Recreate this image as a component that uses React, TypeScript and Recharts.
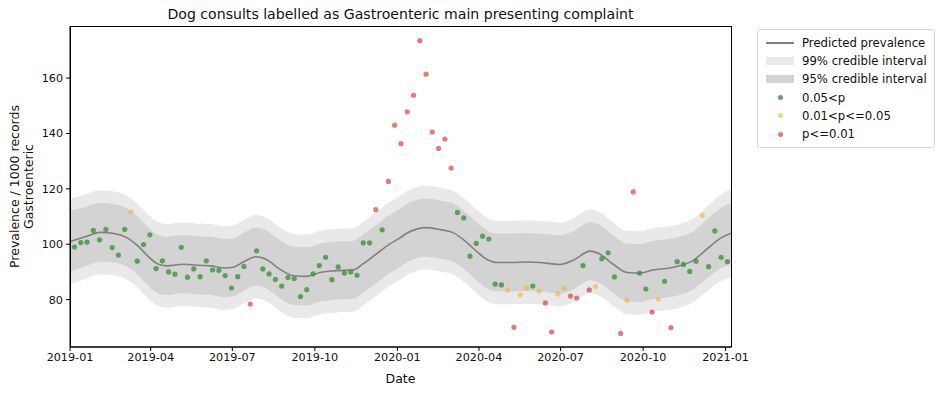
import React from "react";
import {
  ComposedChart,
  Area,
  Line,
  Scatter,
  XAxis,
  YAxis,
} from "recharts";

// weekly observed prevalence (per 1000 records)
const weeklyValues = [
  99.0, 100.6, 100.8, 105.0, 101.6, 105.4, 98.8, 96.1, 105.4, 111.7,
  93.9, 99.9, 103.4, 91.2, 94.0, 90.0, 89.2, 98.9, 88.1, 91.1,
  88.3, 94.0, 90.7, 90.6, 88.7, 84.2, 88.3, 92.0, 78.4, 97.6,
  91.1, 89.3, 87.3, 84.9, 88.0, 87.6, 81.1, 83.6, 89.3, 92.3,
  95.3, 87.2, 91.8, 89.6, 90.0, 88.8, 100.5, 100.5, 112.5, 105.2,
  122.7, 143.0, 136.3, 147.8, 153.8, 173.5, 161.4, 140.5, 134.6, 138.0,
  127.5, 111.5, 109.5, 95.7, 100.3, 102.9, 101.9, 85.6, 85.3, 83.4,
  70.0, 81.7, 84.3, 84.9, 83.1, 78.8, 68.3, 82.0, 84.1, 81.3,
  80.6, 92.3, 83.5, 84.7, 94.8, 96.9, 88.2, 67.8, 79.7, 118.9,
  89.6, 83.8, 75.5, 80.2, 86.6, 69.9, 93.7, 92.7, 90.2, 93.9,
  110.4, 91.9, 104.8, 95.3, 93.7,
];

// g: 0.05<p, o: 0.01<p<=0.05, r: p<=0.01
const weeklySignificance = (
  "gggggggggo" + "gggggggggg" + "ggggggggrg" + "gggggggggg" + "ggggggggrg" +
  "rrrrrrrrrr" + "rggggggggo" + "roogorroor" + "rgrogggror" + "ggrogrgggg" +
  "ogggg"
).split("");

const firstWeekDay = 5; // days after 2019-01-01

// model curve, sampled at days since 2019-01-01
const curveDays = [
  0, 16, 34, 49, 64, 75, 86, 97, 108, 127, 142, 157, 172, 183, 193, 208, 219,
  234, 249, 264, 279, 294, 316, 327, 342, 357, 368, 375, 398, 412, 427, 442,
  453, 465, 476, 494, 509, 524, 535, 546, 561, 580, 591, 606, 621, 635, 650,
  669, 680, 695, 710, 725, 737,
];
const predicted = [
  101.0, 102.6, 104.3, 103.9, 102.3, 99.6, 96.0, 93.0, 92.2, 92.8, 92.4, 92.2,
  91.4, 91.8, 93.6, 95.5, 94.5, 91.0, 88.6, 88.4, 89.8, 90.4, 90.8, 93.0, 96.6,
  100.2, 102.3, 103.9, 106.0, 105.3, 104.2, 100.8, 97.5, 94.5, 93.4, 93.4, 93.6,
  93.4, 93.0, 92.7, 94.2, 97.5, 96.4, 92.7, 89.8, 89.6, 90.7, 91.4, 92.2, 94.2,
  98.2, 102.1, 104.0,
];
const upper99 = [
  116.5, 117.9, 119.5, 119.0, 117.4, 114.7, 111.1, 108.1, 107.3, 107.9, 107.5,
  107.3, 106.5, 106.9, 108.7, 110.6, 109.6, 106.1, 103.7, 103.5, 104.9, 105.5,
  105.9, 108.1, 111.7, 115.3, 117.4, 119.0, 121.1, 120.4, 119.3, 115.9, 112.6,
  109.6, 108.5, 108.5, 108.7, 108.5, 108.1, 107.8, 109.3, 112.6, 111.5, 107.8,
  104.9, 104.7, 105.8, 106.5, 107.3, 109.3, 113.5, 117.7, 120.0,
];
const upper95 = [
  112.2, 113.4, 114.9, 114.4, 112.8, 110.1, 106.5, 103.5, 102.7, 103.3, 102.9,
  102.7, 101.9, 102.3, 104.1, 106.0, 105.0, 101.5, 99.1, 98.9, 100.3, 100.9,
  101.3, 103.5, 107.1, 110.7, 112.8, 114.4, 116.5, 115.8, 114.7, 111.3, 108.0,
  105.0, 103.9, 103.9, 104.1, 103.9, 103.5, 103.2, 104.7, 108.0, 106.9, 103.2,
  100.3, 100.1, 101.2, 101.9, 102.7, 104.7, 108.9, 113.0, 115.0,
];
const lower95 = [
  90.0, 91.9, 93.7, 93.4, 91.8, 89.1, 85.5, 82.5, 81.7, 82.3, 81.9, 81.7, 80.9,
  81.3, 83.1, 85.0, 84.0, 80.5, 78.1, 77.9, 79.3, 79.9, 80.3, 82.5, 86.1, 89.7,
  91.8, 93.4, 95.5, 94.8, 93.7, 90.3, 87.0, 84.0, 82.9, 82.9, 83.1, 82.9, 82.5,
  82.2, 83.7, 87.0, 85.9, 82.2, 79.3, 79.1, 80.2, 80.9, 81.7, 83.7, 87.5, 91.2,
  93.0,
];
const lower99 = [
  85.5, 87.4, 89.2, 88.8, 87.2, 84.5, 80.9, 77.9, 77.1, 77.7, 77.3, 77.1, 76.3,
  76.7, 78.5, 80.4, 79.4, 75.9, 73.5, 73.3, 74.7, 75.3, 75.7, 77.9, 81.5, 85.1,
  87.2, 88.8, 90.9, 90.2, 89.1, 85.7, 82.4, 79.4, 78.3, 78.3, 78.5, 78.3, 77.9,
  77.6, 79.1, 82.4, 81.3, 77.6, 74.7, 74.5, 75.6, 76.3, 77.1, 79.1, 82.9, 86.5,
  88.0,
];

const xTickDays = [0, 90, 181, 273, 365, 456, 547, 639, 731];
const xTickLabels = [
  "2019-01", "2019-04", "2019-07", "2019-10", "2020-01",
  "2020-04", "2020-07", "2020-10", "2021-01",
];
const yTicks = [80, 100, 120, 140, 160];

const FONT = "'DejaVu Sans', sans-serif";
const GREEN = "#4a934a";
const ORANGE = "#f5b041";
const RED = "#d64541";

const curve = curveDays.map((day, i) => ({
  day,
  pred: predicted[i],
  band99: [lower99[i], upper99[i]],
  band95: [lower95[i], upper95[i]],
}));

const weekly = weeklyValues.map((value, i) => ({
  day: firstWeekDay + 7 * i,
  value,
  sig: weeklySignificance[i],
}));
const greenPts = weekly.filter((d) => d.sig === "g");
const orangePts = weekly.filter((d) => d.sig === "o");
const redPts = weekly.filter((d) => d.sig === "r");

const dot = (color: string, opacity: number) => (props: any) =>
  (
    <circle
      cx={props.cx}
      cy={props.cy}
      r={2.6}
      fill={color}
      fillOpacity={opacity}
    />
  );

const tickStyle = { fontSize: 11.2, fill: "#111", fontFamily: FONT };

function LegendBox() {
  const row = { display: "flex", alignItems: "center", height: 18.2 };
  const handle = { width: 28, marginRight: 8, display: "flex", justifyContent: "center" };
  return (
    <div
      style={{
        position: "absolute",
        left: 757,
        top: 29,
        width: 178,
        padding: "4px 0 4px 8px",
        border: "1px solid #d6d6d6",
        borderRadius: 3,
        fontFamily: FONT,
        fontSize: 11.7,
        color: "#111",
        background: "#fff",
        boxSizing: "border-box",
      }}
    >
      <div style={row}>
        <div style={handle}>
          <div style={{ width: 28, height: 1.6, background: "#808080" }} />
        </div>
        Predicted prevalence
      </div>
      <div style={row}>
        <div style={handle}>
          <div style={{ width: 28, height: 8, background: "#e9e9e9" }} />
        </div>
        99% credible interval
      </div>
      <div style={row}>
        <div style={handle}>
          <div style={{ width: 28, height: 8, background: "#d3d3d3" }} />
        </div>
        95% credible interval
      </div>
      {[
        ["0.05<p", GREEN, 0.85],
        ["0.01<p<=0.05", ORANGE, 0.6],
        ["p<=0.01", RED, 0.7],
      ].map(([label, c, o]) => (
        <div style={row} key={label as string}>
          <div style={handle}>
            <div
              style={{
                width: 5,
                height: 5,
                borderRadius: 3,
                background: c as string,
                opacity: o as number,
              }}
            />
          </div>
          {label}
        </div>
      ))}
    </div>
  );
}

export default function App() {
  return (
    <div
      style={{
        position: "absolute",
        left: 0,
        top: 0,
        width: 941,
        height: 393,
        background: "#fff",
      }}
    >
      <ComposedChart
        width={941}
        height={393}
        margin={{ top: 26, right: 210, bottom: 0, left: 0 }}
      >
        <XAxis
          dataKey="day"
          type="number"
          domain={[0, 737]}
          allowDataOverflow
          ticks={xTickDays}
          tickFormatter={(v) => xTickLabels[xTickDays.indexOf(v)] ?? ""}
          height={46}
          tickSize={4}
          tickMargin={2}
          tick={tickStyle}
          stroke="#000"
        />
        <YAxis
          type="number"
          domain={[62.9, 178.8]}
          allowDataOverflow
          ticks={yTicks}
          width={70}
          tickSize={4}
          tickMargin={3}
          tick={tickStyle}
          stroke="#000"
        />
        <Area
          data={curve}
          dataKey="band99"
          type="monotone"
          stroke="none"
          fill="#e9e9e9"
          fillOpacity={1}
          isAnimationActive={false}
        />
        <Area
          data={curve}
          dataKey="band95"
          type="monotone"
          stroke="none"
          fill="#d3d3d3"
          fillOpacity={1}
          isAnimationActive={false}
        />
        <Line
          data={curve}
          dataKey="pred"
          type="monotone"
          stroke="#808080"
          strokeWidth={1.6}
          dot={false}
          isAnimationActive={false}
        />
        <Scatter data={greenPts} dataKey="value" shape={dot(GREEN, 0.85)} isAnimationActive={false} />
        <Scatter data={orangePts} dataKey="value" shape={dot(ORANGE, 0.6)} isAnimationActive={false} />
        <Scatter data={redPts} dataKey="value" shape={dot(RED, 0.7)} isAnimationActive={false} />
      </ComposedChart>

      <svg
        width={941}
        height={393}
        style={{ position: "absolute", left: 0, top: 0, pointerEvents: "none" }}
        fontFamily={FONT}
      >
        <rect x={70.5} y={26.5} width={661} height={320.5} fill="none" stroke="#000" strokeWidth={1} />
        <text x={400.5} y={19} textAnchor="middle" fontSize={14.1} fill="#111">
          Dog consults labelled as Gastroenteric main presenting complaint
        </text>
        <text x={400.5} y={383} textAnchor="middle" fontSize={12.5} fill="#111">
          Date
        </text>
        <text
          transform="translate(19,186.5) rotate(-90)"
          textAnchor="middle"
          fontSize={12.5}
          fill="#111"
        >
          Prevalence / 1000 records
        </text>
        <text
          transform="translate(33,186.5) rotate(-90)"
          textAnchor="middle"
          fontSize={12.5}
          fill="#111"
        >
          Gastroenteric
        </text>
      </svg>

      <LegendBox />
    </div>
  );
}
